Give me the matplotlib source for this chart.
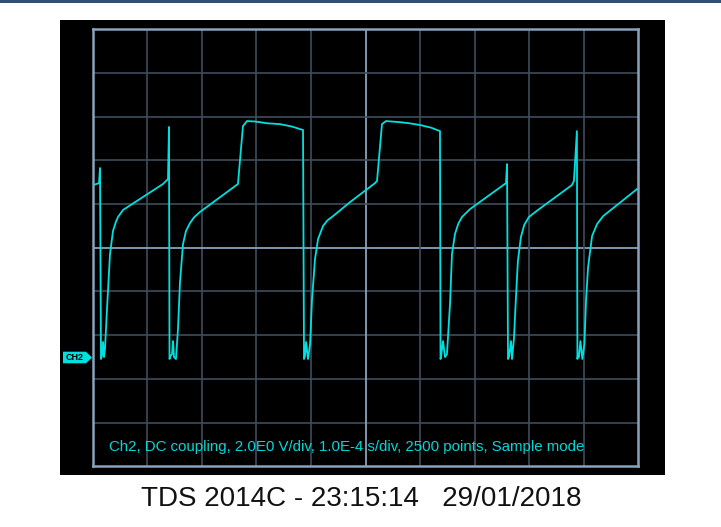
import matplotlib
matplotlib.use("Agg")
import matplotlib.pyplot as plt
from matplotlib.patches import Rectangle, Polygon

# Captured trace, Ch2 (time in us, voltage in V)
time_us = [
    0.5, 11.5, 13.4, 15.2, 17.0, 18.9, 20.7, 22.5, 26.2, 31.7, 37.2, 42.0, 46.4, 55.5,
    128.8, 138.0, 139.8, 140.8,
    141.7, 145.4, 147.2, 149.0, 152.6, 156.3, 160.0, 165.5, 171.0, 178.3, 186.0, 196.6,
    266.2, 275.4, 282.8, 297.5, 320.0, 343.3, 365.0, 385.5, 387.3,
    389.1, 391.0, 394.6, 398.4, 402.0, 407.5, 413.0, 422.2, 430.0, 440.5, 471.6,
    517.4, 521.1, 530.2, 537.6, 563.2, 580.0, 599.9, 620.0, 636.5, 637.5,
    638.4, 642.0, 645.7, 649.3, 654.9, 658.5, 664.0, 670.0, 676.9, 691.5,
    757.5, 759.4, 761.2,
    763.0, 766.7, 768.5, 772.0, 775.6, 779.3, 784.8, 791.0, 799.5, 816.0,
    878.3, 882.0, 887.5, 888.4,
    889.3, 891.1, 893.9, 897.5, 901.2, 904.3, 908.0, 915.3, 924.5, 935.5,
    997.8,
]
volts = [
    7.87, 7.96, 8.65, -0.09, 0.05, 0.69, 0.00, 0.37, 2.20, 4.71, 5.77, 6.15, 6.41, 6.73,
    7.92, 8.15, 10.53, -0.09,
    0.00, 0.14, 0.73, 0.00, -0.09, 1.28, 3.43, 5.17, 5.77, 6.13, 6.40, 6.64,
    7.92, 10.57, 10.80, 10.78, 10.70, 10.66, 10.55, 10.39, -0.09,
    0.05, 0.69, -0.09, 0.59, 2.65, 4.49, 5.40, 6.00, 6.25, 6.45, 7.09,
    7.96, 8.06, 10.66, 10.80, 10.75, 10.70, 10.62, 10.50, 10.34, -0.09,
    0.00, 0.73, 0.00, 0.14, 2.43, 4.71, 5.63, 6.10, 6.41, 6.77,
    7.96, 8.83, -0.09,
    0.00, 0.73, -0.09, 0.82, 2.65, 4.39, 5.49, 6.05, 6.41, 6.73,
    7.87, 8.06, 10.34, -0.09,
    0.05, 0.00, 0.73, -0.09, 0.59, 2.65, 4.12, 5.54, 6.09, 6.45,
    7.69,
]

us_per_div = 100
volts_per_div = 2
n_div = 10
ground_div = 2.5

info = "Ch2, DC coupling, 2.0E0 V/div, 1.0E-4 s/div, 2500 points, Sample mode"
title = "TDS 2014C - 23:15:14   29/01/2018"

trace_color = "#00e0e0"
grid_dim = "#3e4c5c"
grid_bright = "#8aa2bc"

fig = plt.figure(figsize=(7.21, 5.27), dpi=100)
fig.patch.set_facecolor("white")

# top band and black screen (behind the axes)
fig.add_artist(Rectangle((0, 1 - 2.5 / 527), 1, 2.5 / 527, transform=fig.transFigure,
                         color="#2f5070", lw=0, zorder=-2))
fig.add_artist(Rectangle((60 / 721, 52 / 527), 605 / 721, 455 / 527,
                         transform=fig.transFigure, color="black", lw=0, zorder=-2))

ax = fig.add_axes([92.7 / 721, 60.7 / 527, 545.6 / 721, 437 / 527])
ax.set_facecolor("black")
x_max = n_div * us_per_div
y_min = -ground_div * volts_per_div
y_max = y_min + n_div * volts_per_div
ax.set_xlim(0, x_max)
ax.set_ylim(y_min, y_max)

for i in range(1, n_div):
    x = i * us_per_div
    y = y_min + i * volts_per_div
    c = grid_bright if i == n_div // 2 else grid_dim
    w = 1.3 if i == n_div // 2 else 1.2
    ax.axvline(x, color=c, lw=w, zorder=1)
    ax.axhline(y, color=c, lw=w, zorder=1)

for s in ax.spines.values():
    s.set_color(grid_bright)
    s.set_linewidth(1.8)
ax.set_xticks([])
ax.set_yticks([])

ax.plot(time_us, volts, color=trace_color, lw=1.3, zorder=3)

ax.text(0.029, 0.045, info, transform=ax.transAxes, color="#00d8d8",
        fontsize=10.8, family="Liberation Sans", va="center", ha="left")

# channel marker at ground level
gy = 1 - 357.5 / 527
fig.add_artist(Polygon([(63 / 721, gy + 5.8 / 527), (86 / 721, gy + 5.8 / 527),
                        (92 / 721, gy), (86 / 721, gy - 5.8 / 527),
                        (63 / 721, gy - 5.8 / 527)],
                       closed=True, transform=fig.transFigure, color="#00e0e0", lw=0))
fig.text(75 / 721, gy, "CH2", color="black", fontsize=6.5, fontweight="bold",
         family="Liberation Sans", ha="center", va="center")

fig.text(361 / 721, 1 - 499 / 527, title, color="#111111", fontsize=20,
         family="Liberation Sans", ha="center", va="center")

fig.savefig("out.png", dpi=100, facecolor="white")
